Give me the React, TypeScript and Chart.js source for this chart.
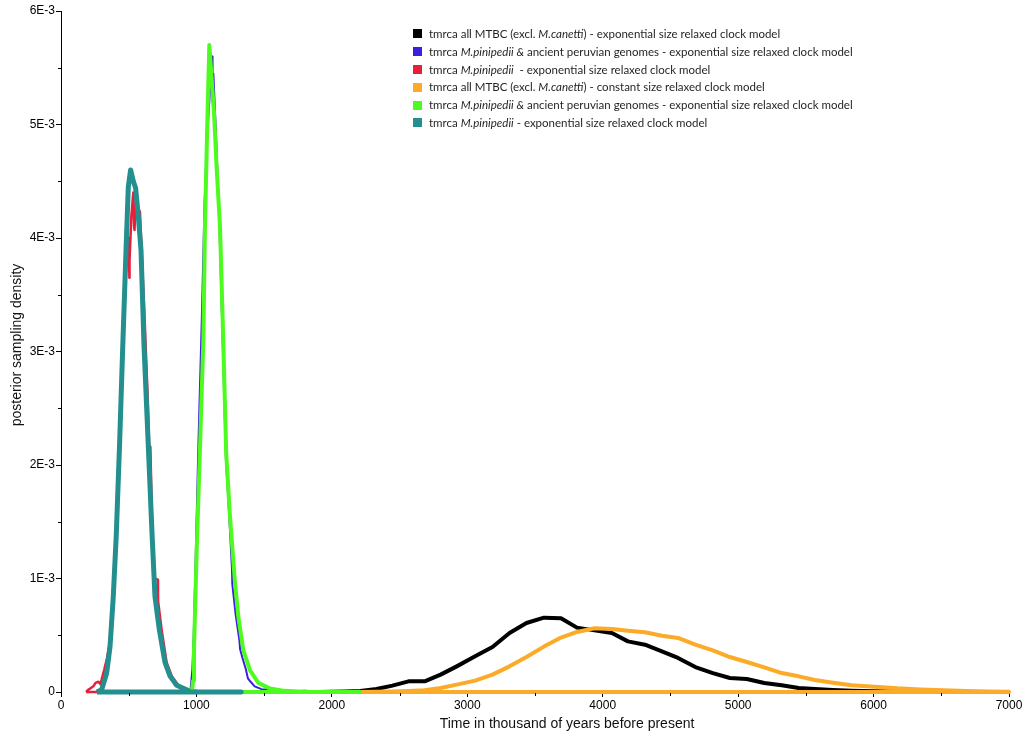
import React, { useEffect, useRef } from 'react';
import { Chart, registerables } from 'chart.js';

Chart.register(...registerables);

// Time in thousand of years before present; densities in units of 1E-3.
const blackYears = [1900, 2000, 2100, 2210, 2330, 2447, 2566, 2685, 2803, 2922, 3058, 3186, 3312, 3437, 3566, 3692, 3810, 3939, 4068, 4186, 4312, 4437, 4556, 4684, 4813, 4939, 5064, 5193, 5322, 5447, 5566, 5700, 5837, 6007, 6176, 6350];
const blackDensity = [0, 0.002, 0.005, 0.009, 0.026, 0.056, 0.094, 0.094, 0.153, 0.226, 0.314, 0.396, 0.52, 0.608, 0.655, 0.649, 0.567, 0.543, 0.52, 0.446, 0.417, 0.358, 0.3, 0.22, 0.167, 0.123, 0.115, 0.079, 0.059, 0.035, 0.026, 0.018, 0.012, 0.006, 0.003, 0];

const blueYears = [955, 970, 980, 995, 1015, 1040, 1060, 1080, 1100, 1110, 1117, 1119, 1125, 1145, 1170, 1195, 1218, 1240, 1262, 1265, 1290, 1318, 1322, 1340, 1365, 1380, 1400, 1430, 1480, 1530, 1560, 1600, 1700, 1800, 1900];
const blueDensity = [0, 0.2, 0.5, 1.2, 2.2, 3.3, 4.3, 4.9, 5.3, 5.5, 5.6, 5.2, 5.45, 4.9, 4.1, 3.05, 2.05, 1.6, 1.1, 0.95, 0.68, 0.45, 0.38, 0.3, 0.2, 0.12, 0.09, 0.05, 0.025, 0.02, 0.005, 0.01, 0.005, 0.01, 0];

const redYears = [185, 200, 215, 239, 255, 276, 290, 300, 320, 340, 362, 386, 410, 435, 458, 482, 500, 505, 506, 520, 534, 540, 543, 550, 583, 595, 617, 640, 651, 660, 672, 690, 716, 717, 743, 780, 818, 866, 903, 940, 960, 1000, 1050];
const redDensity = [0, 0.02, 0.03, 0.05, 0.08, 0.09, 0.07, 0.11, 0.2, 0.3, 0.45, 0.88, 1.45, 2.3, 3.0, 3.8, 4.0, 3.65, 3.8, 4.2, 4.4, 4.1, 4.07, 4.3, 4.23, 3.9, 3.3, 2.6, 2.16, 2.16, 1.5, 1.0, 0.99, 0.8, 0.55, 0.26, 0.14, 0.06, 0.03, 0.02, 0.01, 0.01, 0];

const orangeYears = [2210, 2330, 2447, 2566, 2685, 2803, 2922, 3058, 3186, 3312, 3437, 3566, 3692, 3810, 3939, 4068, 4186, 4312, 4437, 4556, 4684, 4813, 4939, 5064, 5193, 5322, 5447, 5566, 5700, 5837, 6007, 6176, 6346, 6515, 6685, 6850, 7000];
const orangeDensity = [0, 0.002, 0.004, 0.008, 0.015, 0.035, 0.065, 0.1, 0.153, 0.226, 0.308, 0.4, 0.48, 0.529, 0.561, 0.555, 0.54, 0.526, 0.496, 0.476, 0.417, 0.367, 0.308, 0.264, 0.217, 0.167, 0.138, 0.106, 0.082, 0.059, 0.047, 0.032, 0.023, 0.015, 0.009, 0.005, 0.003];

const greenYears = [965, 975, 982, 1002, 1025, 1051, 1063, 1080, 1095, 1110, 1130, 1150, 1174, 1198, 1220, 1248, 1285, 1310, 1346, 1396, 1457, 1544, 1650, 1750, 1850, 2208];
const greenDensity = [0, 0.1, 0.37, 1.25, 2.1, 3.1, 4.1, 5.0, 5.7, 5.45, 5.1, 4.6, 4.1, 3.1, 2.1, 1.54, 0.96, 0.66, 0.37, 0.19, 0.08, 0.03, 0.01, 0.005, 0, 0];

const tealYears = [265, 300, 337, 362, 386, 408, 433, 455, 480, 497, 514, 534, 551, 571, 591, 613, 645, 672, 694, 726, 768, 805, 854, 928, 955, 1330];
const tealDensity = [0, 0.02, 0.165, 0.4, 0.84, 1.38, 2.2, 3.01, 3.89, 4.45, 4.6, 4.5, 4.44, 4.19, 3.89, 3.05, 2.16, 1.4, 0.84, 0.55, 0.26, 0.14, 0.06, 0.02, 0, 0];

type Part = { text: string; italic?: boolean };

const series: { label: Part[]; color: string; width: number; years: number[]; density: number[] }[] = [
  {
    label: [{ text: 'tmrca all MTBC (excl. ' }, { text: 'M.canetti', italic: true }, { text: ') - exponential size relaxed clock model' }],
    color: '#000000', width: 4, years: blackYears, density: blackDensity,
  },
  {
    label: [{ text: 'tmrca ' }, { text: 'M.pinipedii &', italic: true }, { text: ' ancient peruvian genomes - exponential size relaxed clock model' }],
    color: '#3a1fdf', width: 2, years: blueYears, density: blueDensity,
  },
  {
    label: [{ text: 'tmrca ' }, { text: 'M.pinipedii', italic: true }, { text: '\u00a0 - exponential size relaxed clock model' }],
    color: '#e5203d', width: 2.5, years: redYears, density: redDensity,
  },
  {
    label: [{ text: 'tmrca all MTBC (excl. ' }, { text: 'M.canetti', italic: true }, { text: ') - constant size relaxed clock model' }],
    color: '#fbab27', width: 4, years: orangeYears, density: orangeDensity,
  },
  {
    label: [{ text: 'tmrca ' }, { text: 'M.pinipedii &', italic: true }, { text: ' ancient peruvian genomes - exponential size relaxed clock model' }],
    color: '#4efb1e', width: 4, years: greenYears, density: greenDensity,
  },
  {
    label: [{ text: 'tmrca ' }, { text: 'M.pinipedii', italic: true }, { text: ' - exponential size relaxed clock model' }],
    color: '#238f8e', width: 5, years: tealYears, density: tealDensity,
  },
];

const xAxisTitle = 'Time in thousand of years before present';
const yAxisTitle = 'posterior sampling density';
const axisFont = '"Liberation Sans", Arial, Helvetica, sans-serif';

const isMajorY = (v: number) => Math.abs(Math.round(v * 1000) - v * 1000) < 1e-6;
const isMajorX = (v: number) => Math.round(v) % 1000 === 0;

// Short minor ticks and the two axis titles.
const axisDecor = {
  id: 'axisDecor',
  afterDraw(chart: any) {
    const { ctx, chartArea } = chart;
    const xs = chart.scales.x;
    const ys = chart.scales.y;
    ctx.save();
    ctx.strokeStyle = '#000';
    ctx.lineWidth = 1;
    ctx.beginPath();
    ys.ticks.forEach((t: any) => {
      if (isMajorY(t.value)) return;
      const py = Math.round(ys.getPixelForValue(t.value)) + 0.5;
      ctx.moveTo(chartArea.left - 3, py);
      ctx.lineTo(chartArea.left, py);
    });
    xs.ticks.forEach((t: any) => {
      if (isMajorX(t.value)) return;
      const px = Math.round(xs.getPixelForValue(t.value)) + 0.5;
      ctx.moveTo(px, chartArea.bottom + 1);
      ctx.lineTo(px, chartArea.bottom + 4);
    });
    ctx.stroke();

    ctx.fillStyle = '#111';
    ctx.font = `14px ${axisFont}`;
    ctx.textAlign = 'center';
    ctx.textBaseline = 'middle';
    ctx.fillText(xAxisTitle, 567, 724);
    ctx.translate(17, 345);
    ctx.rotate(-Math.PI / 2);
    ctx.fillText(yAxisTitle, 0, 0);
    ctx.restore();
  },
};

function DensityChart() {
  const canvasRef = useRef<HTMLCanvasElement | null>(null);

  useEffect(() => {
    const canvas = canvasRef.current;
    if (!canvas) return;
    const n = series.length;
    const datasets = series.map((s, i) => {
      const pts = s.years.map((x, k) => ({ x, y: s.density[k] / 1000 }));
      // close each density outline back along the baseline
      pts.push({ x: s.years[s.years.length - 1], y: 0 });
      pts.push({ x: s.years[0], y: 0 });
      return {
        label: s.label.map((p) => p.text).join(''),
        data: pts,
        borderColor: s.color,
        backgroundColor: s.color,
        borderWidth: s.width,
        pointRadius: 0,
        tension: 0,
        fill: false,
        clip: false as any,
        borderJoinStyle: 'round' as const,
        order: n - i,
      };
    });

    const chart = new Chart(canvas, {
      type: 'line',
      data: { datasets },
      options: {
        responsive: false,
        animation: false,
        devicePixelRatio: 1,
        layout: { padding: { top: 11, right: 21, left: 0, bottom: 0 } },
        plugins: { legend: { display: false }, tooltip: { enabled: false } },
        scales: {
          x: {
            type: 'linear',
            min: 0,
            max: 7000,
            afterFit: (scale: any) => { scale.height = 46; },
            border: { display: false },
            grid: {
              display: true,
              drawOnChartArea: false,
              drawTicks: true,
              tickLength: 5,
              tickColor: (c: any) => (c.tick && isMajorX(c.tick.value) ? '#000' : 'rgba(0,0,0,0)'),
            },
            ticks: {
              stepSize: 500,
              autoSkip: false,
              maxRotation: 0,
              padding: 1,
              color: '#000',
              font: { family: axisFont, size: 12 },
              callback: (v: any) => (isMajorX(Number(v)) ? String(v) : ''),
            },
          },
          y: {
            type: 'linear',
            min: 0,
            max: 0.006,
            afterFit: (scale: any) => { scale.width = 61; },
            border: { display: true, color: '#000', width: 1 },
            grid: {
              display: true,
              drawOnChartArea: false,
              drawTicks: true,
              tickLength: 5,
              tickColor: (c: any) => (c.tick && isMajorY(c.tick.value) ? '#000' : 'rgba(0,0,0,0)'),
            },
            ticks: {
              stepSize: 0.0005,
              autoSkip: false,
              padding: 1,
              color: '#000',
              font: { family: axisFont, size: 12 },
              callback: (v: any) => {
                const num = Number(v);
                if (!isMajorY(num)) return '';
                const k = Math.round(num * 1000);
                return k === 0 ? '0' : `${k}E-3`;
              },
            },
          },
        },
      },
      plugins: [axisDecor],
    } as any);

    return () => chart.destroy();
  }, []);

  return <canvas ref={canvasRef} width={1030} height={738} style={{ display: 'block' }} />;
}

function Legend() {
  return (
    <div
      style={{
        position: 'absolute',
        left: 413,
        top: 25,
        fontFamily: 'Lato, "Noto Sans", sans-serif',
        fontSize: 11.5,
        color: '#231f20',
        lineHeight: '17.8px',
      }}
    >
      {series.map((s, i) => (
        <div key={i} style={{ display: 'flex', alignItems: 'center', height: 17.8, whiteSpace: 'pre' }}>
          <span style={{ display: 'inline-block', width: 9, height: 9, background: s.color, marginRight: 7 }} />
          <span>
            {s.label.map((p, k) => (
              <span key={k} style={p.italic ? { fontStyle: 'italic' } : undefined}>{p.text}</span>
            ))}
          </span>
        </div>
      ))}
    </div>
  );
}

export default function App() {
  return (
    <div style={{ position: 'absolute', left: 0, top: 0, width: 1030, height: 738, background: '#fff' }}>
      <DensityChart />
      <Legend />
    </div>
  );
}
